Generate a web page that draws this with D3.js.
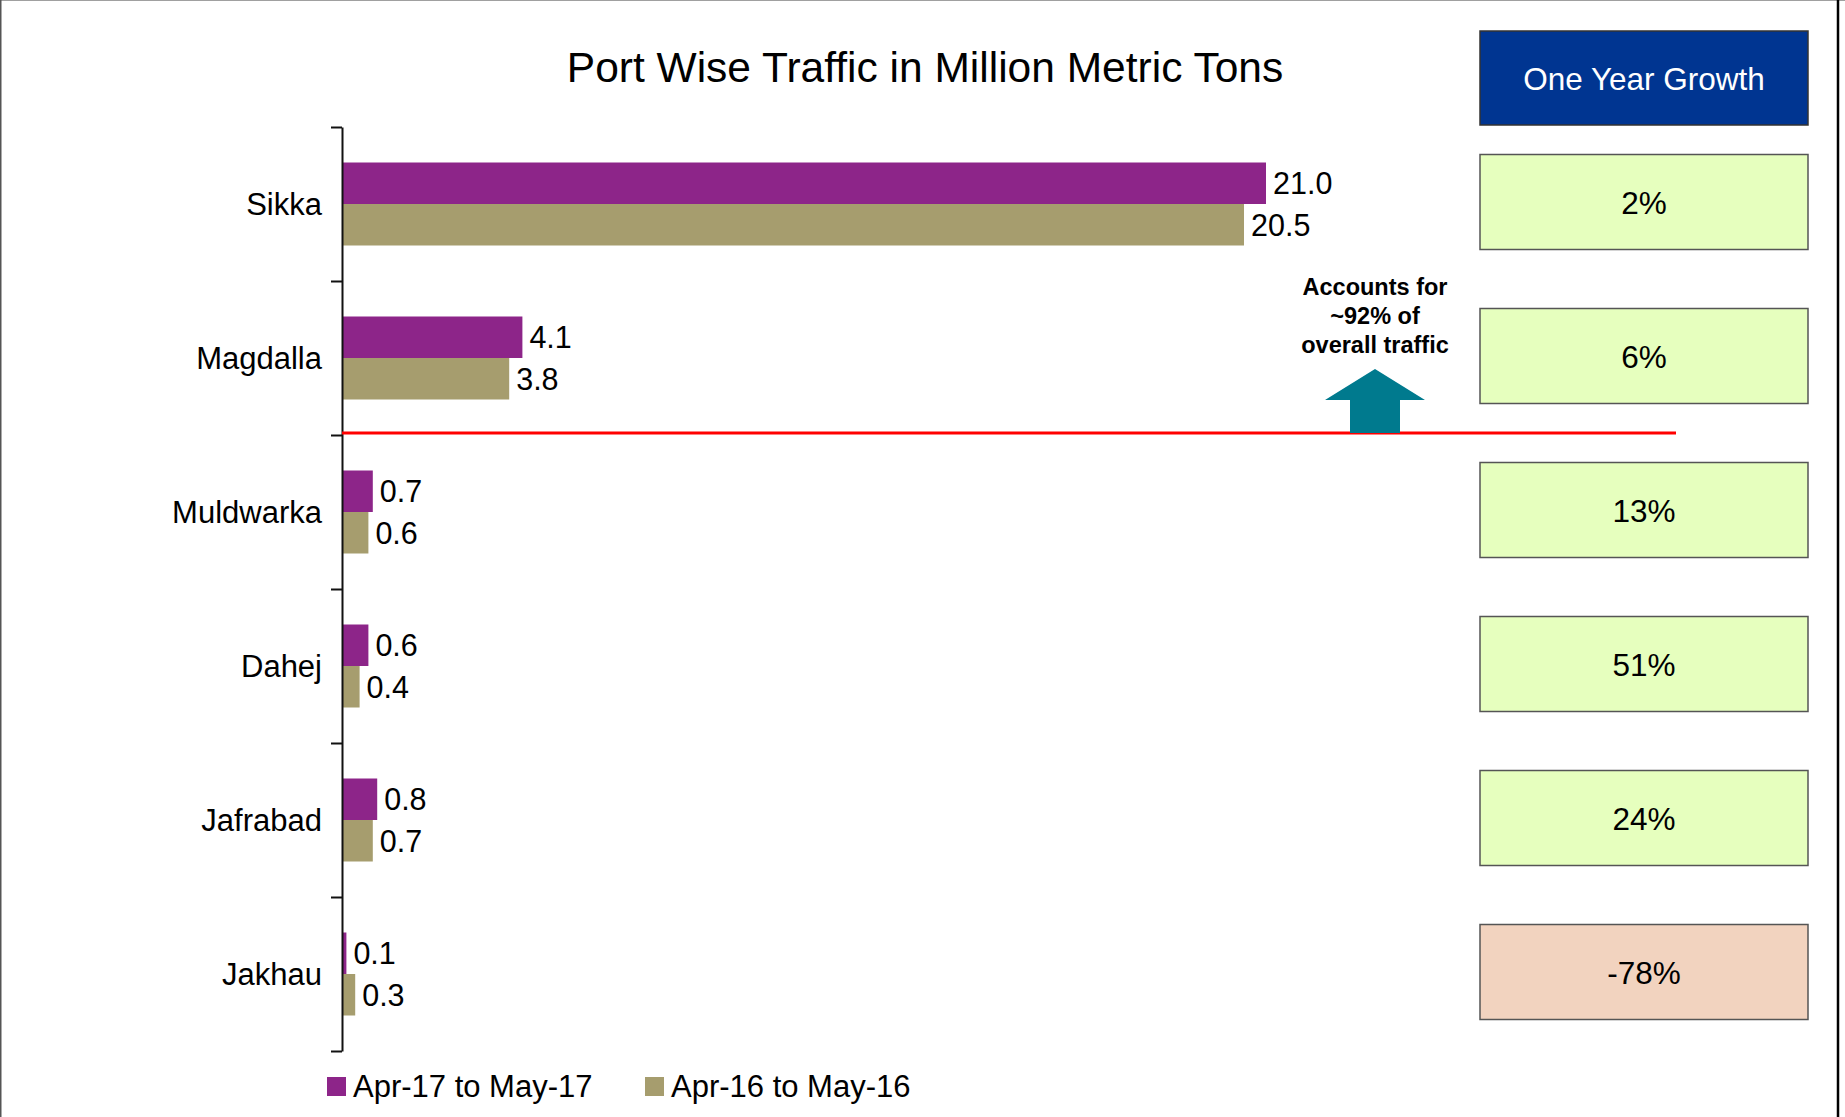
<!DOCTYPE html>
<html>
<head>
<meta charset="utf-8">
<script src="https://cdn.jsdelivr.net/npm/d3@7"></script>
<style>
  html, body { margin: 0; padding: 0; background: #fff; }
  svg { display: block; font-family: "Liberation Sans", Arial, sans-serif; }
</style>
</head>
<body>
<svg id="chart" width="1845" height="1117"></svg>
<script>
const title = "Port Wise Traffic in Million Metric Tons";
const categories = ["Sikka", "Magdalla", "Muldwarka", "Dahej", "Jafrabad", "Jakhau"];
const seriesNames = ["Apr-17 to May-17", "Apr-16 to May-16"];
const valuesCurrent = [21.0, 4.1, 0.7, 0.6, 0.8, 0.1];
const valuesPrevious = [20.5, 3.8, 0.6, 0.4, 0.7, 0.3];
const growthPct = [2, 6, 13, 51, 24, -78];
const growthHeader = "One Year Growth";
const noteLines = ["Accounts for", "~92% of", "overall traffic"];
const seriesColors = ["#8D2589", "#A69D6E"];

const svg = d3.select("#chart");

// page border
svg.append("line").attr("x1", 0).attr("x2", 1845).attr("y1", 0.5).attr("y2", 0.5).attr("stroke", "#a0a0a0").attr("stroke-width", 1);
svg.append("line").attr("x1", 0.75).attr("x2", 0.75).attr("y1", 0).attr("y2", 1117).attr("stroke", "#555").attr("stroke-width", 1.5);
svg.append("line").attr("x1", 1838).attr("x2", 1838).attr("y1", 0).attr("y2", 1117).attr("stroke", "#000").attr("stroke-width", 2.5);

// title
svg.append("text").attr("x", 925).attr("y", 82).attr("text-anchor", "middle")
  .attr("font-size", 42.5).attr("fill", "#000").text(title);

// scales
const x = d3.scaleLinear().domain([0, 21]).range([342, 1266]);
const y = d3.scaleBand().domain(categories).range([127, 1051]).padding(0);
const groupH = 83;
const ySub = d3.scaleBand().domain(seriesNames)
  .range([(y.step() - groupH) / 2, (y.step() + groupH) / 2]).padding(0);

const rows = categories.map((c, i) => ({
  cat: c,
  vals: [valuesCurrent[i], valuesPrevious[i]],
  growth: growthPct[i]
}));

// bars
const g = svg.append("g");
const grp = g.selectAll("g.cat").data(rows).join("g")
  .attr("class", "cat")
  .attr("transform", d => `translate(0,${y(d.cat)})`);

grp.selectAll("rect").data(d => d.vals.map((v, j) => ({ v, s: seriesNames[j], j })))
  .join("rect")
  .attr("x", x(0))
  .attr("y", d => ySub(d.s))
  .attr("width", d => x(d.v) - x(0))
  .attr("height", ySub.bandwidth())
  .attr("fill", d => seriesColors[d.j]);

grp.selectAll("text.val").data(d => d.vals.map((v, j) => ({ v, s: seriesNames[j], j })))
  .join("text")
  .attr("class", "val")
  .attr("x", d => x(d.v) + 7)
  .attr("y", d => ySub(d.s) + ySub.bandwidth() / 2 + 11)
  .attr("font-size", 30.5)
  .attr("fill", "#000")
  .text(d => d3.format(".1f")(d.v));

// y axis with ticks at category boundaries
const yIdx = d3.scaleLinear().domain([0, categories.length]).range(y.range());
const axis = svg.append("g").attr("transform", `translate(${x(0)},0)`)
  .call(d3.axisLeft(yIdx).ticks(categories.length).tickSize(11).tickSizeOuter(0).tickFormat(""));
axis.select(".domain").attr("stroke", "#111").attr("stroke-width", 2);
axis.selectAll(".tick line").attr("stroke", "#111").attr("stroke-width", 2);

// category labels
svg.append("g").selectAll("text").data(categories).join("text")
  .attr("x", 322)
  .attr("y", d => y(d) + y.bandwidth() / 2 + 11)
  .attr("text-anchor", "end")
  .attr("font-size", 31)
  .attr("fill", "#000")
  .text(d => d);

// red separator line between Magdalla and Muldwarka
const sepY = y("Muldwarka") - 2;
svg.append("line").attr("x1", x(0)).attr("x2", 1676).attr("y1", sepY).attr("y2", sepY)
  .attr("stroke", "#ff0000").attr("stroke-width", 3);

// arrow
const ax = 1375;
svg.append("path")
  .attr("d", `M${ax},369 L${ax + 50},400 L${ax + 25},400 L${ax + 25},${sepY} L${ax - 25},${sepY} L${ax - 25},400 L${ax - 50},400 Z`)
  .attr("fill", "#007A8E");

// note
svg.append("g").selectAll("text").data(noteLines).join("text")
  .attr("x", ax)
  .attr("y", (d, i) => 295 + i * 29)
  .attr("text-anchor", "middle")
  .attr("font-size", 23.5)
  .attr("font-weight", "bold")
  .attr("fill", "#000")
  .text(d => d);

// growth boxes
const boxX = 1480, boxW = 328, boxH = 95;
svg.append("rect").attr("x", boxX).attr("y", 31).attr("width", boxW).attr("height", 94)
  .attr("fill", "#003591").attr("stroke", "#333").attr("stroke-width", 1.5);
svg.append("text").attr("x", boxX + boxW / 2).attr("y", 90).attr("text-anchor", "middle")
  .attr("font-size", 31.5).attr("fill", "#fff").text(growthHeader);

const boxes = svg.append("g").selectAll("g").data(rows).join("g")
  .attr("transform", d => `translate(${boxX},${y(d.cat) + y.bandwidth() / 2 - boxH / 2 - 2})`);
boxes.append("rect")
  .attr("width", boxW).attr("height", boxH)
  .attr("fill", d => d.growth < 0 ? "#F2D3BF" : "#E6FFBE")
  .attr("stroke", "#555").attr("stroke-width", 1.5);
boxes.append("text")
  .attr("x", boxW / 2).attr("y", boxH / 2 + 12)
  .attr("text-anchor", "middle")
  .attr("font-size", 31.5).attr("fill", "#000")
  .text(d => d.growth + "%");

// legend
const legendX = [327, 645];
const leg = svg.append("g").selectAll("g").data(seriesNames).join("g")
  .attr("transform", (d, i) => `translate(${legendX[i]},1077)`);
leg.append("rect").attr("width", 19).attr("height", 19).attr("fill", (d, i) => seriesColors[i]);
leg.append("text").attr("x", 26).attr("y", 20).attr("font-size", 31).attr("fill", "#000").text(d => d);
</script>
</body>
</html>
